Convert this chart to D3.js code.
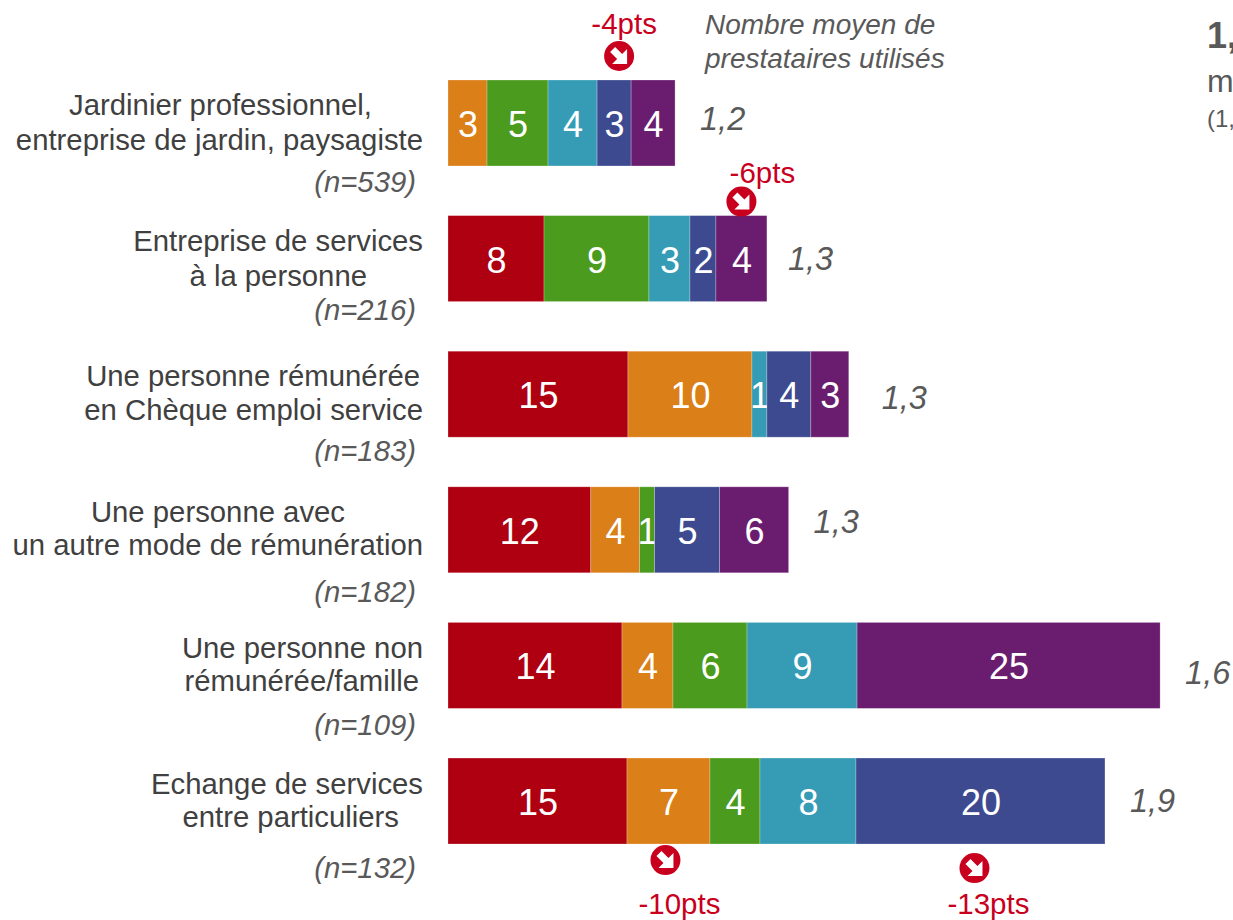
<!DOCTYPE html>
<html>
<head>
<meta charset="utf-8">
<script src="https://cdn.jsdelivr.net/npm/d3@7/dist/d3.min.js"></script>
<style>
  html, body { margin: 0; padding: 0; background: #fff; overflow: hidden; }
  text { font-family: "Liberation Sans", Arial, sans-serif; }
</style>
</head>
<body>
<svg id="chart" width="1233" height="920"></svg>
<script>
const categories = [
  ['Jardinier professionnel,', 'entreprise de jardin, paysagiste'],
  ['Entreprise de services', 'à la personne'],
  ['Une personne rémunérée', 'en Chèque emploi service'],
  ['Une personne avec', 'un autre mode de rémunération'],
  ['Une personne non', 'rémunérée/famille'],
  ['Echange de services', 'entre particuliers'],
];
const sampleSizes = [539, 216, 183, 182, 109, 132];
const means = ['1,2', '1,3', '1,3', '1,3', '1,6', '1,9'];

// no legend in the picture, series are only known by their colour
const seriesNames = ['rouge', 'orange', 'vert', 'turquoise', 'bleu', 'violet'];
const rouge = [0, 7.87, 14.75, 11.7, 14.26, 14.67];
const orange = [3.2, 0, 10.16, 4.0, 4.18, 6.8];
const vert = [5.0, 8.6, 0, 1.23, 6.07, 4.1];
const turquoise = [4.02, 3.36, 1.23, 0, 9.02, 7.87];
const bleu = [2.79, 2.13, 3.6, 5.33, 0, 20.41];
const violet = [3.6, 4.18, 3.11, 5.66, 24.84, 0];
const seriesColors = ['#ae0011', '#db7f18', '#4b9b1e', '#369cb5', '#3d4a90', '#6a1d6f'];

const changes = [
  { row: 0, serie: 'bleu', label: '-4pts' },
  { row: 1, serie: 'violet', label: '-6pts' },
  { row: 5, serie: 'orange', label: '-10pts' },
  { row: 5, serie: 'bleu', label: '-13pts' },
];

// hand placement, the labels of the slide are not aligned on one rule
const lineEnds = [[372, 423], [423, 367], [420, 423], [345, 423], [423, 419], [423, 399]];
const lineOffsets = [[35, 70], [35, 70], [35, 69], [35, 68], [36, 69], [36, 69]];
const nOffsets = [112, 104, 110, 115, 113, 120];
const meanDx = [25, 21, 33, 25, 25, 25];
const meanDy = [50, 54, 58, 46, 62, 54];
const badgeOffsets = [
  { dx: 5, badge: -24, text: -46, textDx: 5 },
  { dx: 0, badge: -14, text: -33, textDx: 21 },
  { dx: -3, badge: 102, text: 156, textDx: 14 },
  { dx: -6, badge: 110, text: 156, textDx: 14 },
];

const grey = '#595959';
const darkGrey = '#404040';
const red = '#c8001e';

const svg = d3.select('#chart');

const xScale = d3.scaleLinear().domain([0, 60]).range([448, 1180]);
const yScale = d3.scaleBand()
  .domain(d3.range(categories.length))
  .range([80, 844])
  .paddingInner(0.366)
  .paddingOuter(0);

const rows = categories.map((c, i) => ({
  index: i,
  rouge: rouge[i],
  orange: orange[i],
  vert: vert[i],
  turquoise: turquoise[i],
  bleu: bleu[i],
  violet: violet[i],
}));
const stacked = d3.stack().keys(seriesNames)(rows);
const colorScale = d3.scaleOrdinal().domain(seriesNames).range(seriesColors);

const serieG = svg.selectAll('.serie')
  .data(stacked)
  .join('g')
  .attr('class', 'serie')
  .attr('fill', (d) => colorScale(d.key));

const cells = serieG.selectAll('g')
  .data((d) => d.filter((p) => p[1] > p[0]))
  .join('g');

cells.append('rect')
  .attr('x', (d) => xScale(d[0]))
  .attr('y', (d) => yScale(d.data.index))
  .attr('width', (d) => xScale(d[1]) - xScale(d[0]))
  .attr('height', yScale.bandwidth())
  .attr('stroke', '#fff')
  .attr('stroke-opacity', 0.3)
  .attr('stroke-width', 0.8);

cells.append('text')
  .attr('x', (d) => (xScale(d[0]) + xScale(d[1])) / 2 + 0.5)
  .attr('y', (d) => yScale(d.data.index) + yScale.bandwidth() / 2 + 14)
  .attr('text-anchor', 'middle')
  .attr('font-size', 36)
  .attr('fill', '#fff')
  .text((d) => Math.round(d[1] - d[0]));

// category labels
const labelG = svg.selectAll('.label')
  .data(categories)
  .join('g')
  .attr('class', 'label');

labelG.selectAll('text')
  .data((d, i) => d.map((line, j) => ({ line, i, j })))
  .join('text')
  .attr('x', (d) => lineEnds[d.i][d.j])
  .attr('y', (d) => yScale(d.i) + lineOffsets[d.i][d.j])
  .attr('text-anchor', 'end')
  .attr('font-size', 29.3)
  .attr('fill', darkGrey)
  .text((d) => d.line);

svg.selectAll('.sample')
  .data(sampleSizes)
  .join('text')
  .attr('class', 'sample')
  .attr('x', 416)
  .attr('y', (d, i) => yScale(i) + nOffsets[i])
  .attr('text-anchor', 'end')
  .attr('font-size', 29.3)
  .attr('font-style', 'italic')
  .attr('fill', grey)
  .text((d) => `(n=${d})`);

// mean number of providers at the end of each bar
svg.selectAll('.mean')
  .data(means)
  .join('text')
  .attr('class', 'mean')
  .attr('x', (d, i) => xScale(d3.sum(seriesNames, (s) => rows[i][s])) + meanDx[i])
  .attr('y', (d, i) => yScale(i) + meanDy[i])
  .attr('font-size', 32.5)
  .attr('font-style', 'italic')
  .attr('fill', grey)
  .text((d) => d);

svg.append('g')
  .selectAll('text')
  .data(['Nombre moyen de', 'prestataires utilisés'])
  .join('text')
  .attr('x', 705)
  .attr('y', (d, i) => 34 + i * 34)
  .attr('font-size', 28)
  .attr('font-style', 'italic')
  .attr('fill', grey)
  .text((d) => d);

// change badges
const badges = svg.selectAll('.badge')
  .data(changes)
  .join('g')
  .attr('class', 'badge')
  .attr('transform', (d, i) => {
    const cell = stacked.find((s) => s.key === d.serie)[d.row];
    const cx = (xScale(cell[0]) + xScale(cell[1])) / 2 + badgeOffsets[i].dx;
    return `translate(${cx},${yScale(d.row)})`;
  });

badges.append('circle')
  .attr('cy', (d, i) => badgeOffsets[i].badge)
  .attr('r', 15)
  .attr('fill', red);

badges.append('path')
  .attr('transform', (d, i) => `translate(0,${badgeOffsets[i].badge})`)
  .attr('d', 'M-9,-4 L-4,-9 L3,-2 L8,-7 L8,8 L-7,8 L-2,3 Z')
  .attr('fill', '#fff');

badges.append('text')
  .attr('x', (d, i) => badgeOffsets[i].textDx)
  .attr('y', (d, i) => badgeOffsets[i].text)
  .attr('text-anchor', 'middle')
  .attr('font-size', 29.5)
  .attr('fill', red)
  .text((d) => d.label);

// right part of the slide, cut by the crop of the picture
svg.append('text').attr('x', 1207).attr('y', 48).attr('font-size', 36).attr('font-weight', 'bold').attr('fill', grey).text('1,');
svg.append('text').attr('x', 1207).attr('y', 92).attr('font-size', 32).attr('fill', grey).text('m');
svg.append('text').attr('x', 1207).attr('y', 127).attr('font-size', 24).attr('fill', grey).text('(1,');
</script>
</body>
</html>
